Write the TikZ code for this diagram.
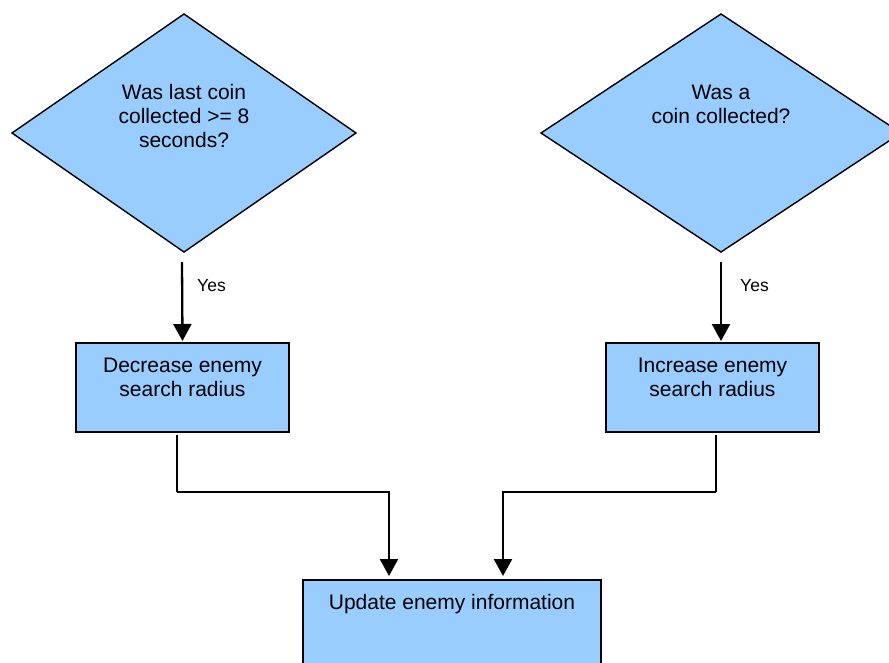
\documentclass[tikz,border=0pt]{standalone}
\usepackage{fontspec}
\setmainfont{Liberation Sans}
\usetikzlibrary{shapes.geometric,arrows.meta}
\definecolor{boxblue}{HTML}{99CCFF}
\begin{document}
\begin{tikzpicture}[x=1pt,y=-1pt,
  decision/.style={diamond, draw, fill=boxblue, line width=1.4pt,
    inner sep=0pt, outer sep=0pt},
  process/.style={rectangle, draw, fill=boxblue, line width=1.8pt,
    inner sep=0pt, outer sep=0pt},
  maintext/.style={align=center, inner sep=0pt, anchor=north,
    font=\fontsize{21}{24}\selectfont},
  yestext/.style={inner sep=0pt, anchor=base west,
    font=\fontsize{17.5}{20}\selectfont},
  flow/.style={line width=2.3pt, -{Triangle[width=18pt,length=17pt]}},
  joint/.style={line width=2.3pt}]
  \clip (0,0) rectangle (889,662);

  % decisions
  \node[decision, minimum width=344pt, minimum height=238pt] (d1) at (184,133) {};
  \node[decision, minimum width=360pt, minimum height=238pt] (d2) at (721,133) {};
  \node[maintext] (t1) at (184,84) {Was last coin\\collected >= 8\\seconds?};
  \node[maintext] (t2) at (721,84.5) {Was a\\coin collected?};

  % actions
  \node[process, minimum width=213pt, minimum height=89pt] (b1) at (182.5,387.5) {};
  \node[process, minimum width=213pt, minimum height=89pt] (b2) at (712.5,387.5) {};
  \node[maintext] (t3) at (182.5,358) {Decrease enemy\\search radius};
  \node[maintext] (t4) at (712.5,358) {Increase enemy\\search radius};

  % final update
  \node[process, minimum width=298pt, minimum height=120pt] (u) at (452,640) {};
  \node[maintext] (t5) at (452,594) {Update enemy information};

  % yes branches
  \draw[flow] ([xshift=-2pt,yshift=-10pt]d1.south) -- ([yshift=2pt]b1.north);
  \draw[flow] ([yshift=-10pt]d2.south) -- ([xshift=8.5pt,yshift=2pt]b2.north);
  \node[yestext] (y1) at (197,291) {Yes};
  \node[yestext] (y2) at (740,291) {Yes};

  % merge into the update step
  \draw[joint] ([xshift=-5.5pt,yshift=-3pt]b1.south) -- ++(0,57) coordinate (j1);
  \draw[flow] (j1) -| ([xshift=-63pt,yshift=4pt]u.north);
  \draw[joint] ([xshift=3.5pt,yshift=-3pt]b2.south) -- ++(0,57) coordinate (j2);
  \draw[flow] (j2) -| ([xshift=51pt,yshift=4pt]u.north);
\end{tikzpicture}
\end{document}
